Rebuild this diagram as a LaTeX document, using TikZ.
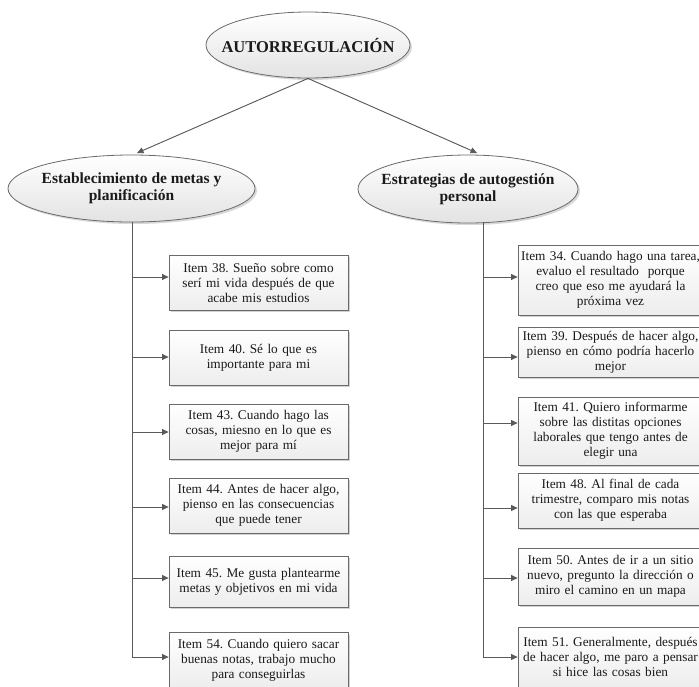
\documentclass[tikz,border=0pt]{standalone}
\usepackage{fontspec}
\setmainfont{Liberation Serif}
\usetikzlibrary{shapes.geometric,shadows,arrows.meta,calc}
\definecolor{linegray}{HTML}{5A5A5A}
\definecolor{edgegray}{HTML}{6A6A6A}
\definecolor{txt}{HTML}{1A1A1A}
\tikzset{
  ellbox/.style={ellipse, draw=edgegray, line width=0.8pt, inner sep=0pt,
    top color=white, bottom color=gray!22,
    drop shadow={shadow xshift=2pt, shadow yshift=-2pt, opacity=0.3}},
  elltext/.style={align=center, font=\fontsize{15.5}{17}\selectfont\bfseries, text=txt, inner sep=0pt},
  itembox/.style={rectangle, draw=edgegray, line width=0.8pt, inner sep=1pt,
    top color=white, bottom color=gray!14, align=center,
    font=\fontsize{13.3}{15}\selectfont\frenchspacing, text=txt,
    drop shadow={shadow xshift=2pt, shadow yshift=-2pt, opacity=0.35}},
  lbox/.style={itembox, minimum width=179pt, text width=177pt},
  rbox/.style={itembox, minimum width=185pt, text width=183pt},
  conn/.style={draw=linegray, line width=0.9pt},
  arr/.style={conn, -{Triangle[length=6.5pt,width=6pt]}, fill=linegray},
}
\begin{document}
\begin{tikzpicture}[x=1pt,y=-1pt]
\useasboundingbox (0,0) rectangle (699,686);
\fill[white] (0,0) rectangle (699,686);

% ellipses
\node[ellbox, minimum width=204pt, minimum height=66pt] (top) at (308,45) {};
\node[elltext, font=\fontsize{16.5}{18}\selectfont\bfseries] (toptxt) at (top) {AUTORREGULACIÓN};

\node[ellbox, minimum width=247pt, minimum height=67pt] (e1) at (131.5,188.5) {};
\node[elltext] (e1txt) at (e1) {Establecimiento de metas y\\planificación};

\node[ellbox, minimum width=220pt, minimum height=68pt] (e2) at (468,189) {};
\node[elltext] (e2txt) at (e2) {Estrategias de autogestión\\personal};

% connectors from top
\coordinate (ttip1) at (137,153);
\coordinate (ttip2) at (477,153);
\draw[arr] (top.south) -- (ttip1);
\draw[arr] (top.south) -- (ttip2);

% left boxes
\node[lbox, minimum height=55pt] (b38) at (258.5,282.5) {Item 38. Sueño sobre como\\serí mi vida después de que\\acabe mis estudios};
\node[lbox, minimum height=55pt] (b40) at (258.5,357.5) {Item 40. Sé lo que es\\importante para mi};
\node[lbox, minimum height=55pt] (b43) at (258.5,431.5) {Item 43. Cuando hago las\\cosas, miesno en lo que es\\mejor para mí};
\node[lbox, minimum height=55pt] (b44) at (258.5,505.5) {Item 44. Antes de hacer algo,\\pienso en las consecuencias\\que puede tener};
\node[lbox, minimum height=51pt] (b45) at (258.5,581.5) {Item 45. Me gusta plantearme\\metas y objetivos en mi vida};
\node[lbox, minimum height=55pt] (b54) at (258.5,660) {Item 54. Cuando quiero sacar\\buenas notas, trabajo mucho\\para conseguirlas};

% right boxes
\node[rbox, minimum height=70pt] (b34) at (610.5,280) {Item 34. Cuando hago una tarea,\\evaluo el resultado\ \ porque\\creo que eso me ayudará la\\próxima vez};
\node[rbox, minimum height=50pt] (b39) at (610.5,352) {Item 39. Después de hacer algo,\\pienso en cómo podría hacerlo\\mejor};
\node[rbox, minimum height=68pt] (b41) at (610.5,431) {Item 41. Quiero informarme\\sobre las distitas opciones\\laborales que tengo antes de\\elegir una};
\node[rbox, minimum height=55pt] (b48) at (610.5,500.5) {Item 48. Al final de cada\\trimestre, comparo mis notas\\con las que esperaba};
\node[rbox, minimum height=57pt] (b50) at (610.5,576.5) {Item 50. Antes de ir a un sitio\\nuevo, pregunto la dirección o\\miro el camino en un mapa};
\node[rbox, minimum height=60pt] (b51) at (610.5,657) {Item 51. Generalmente, después\\de hacer algo, me paro a pensar\\si hice las cosas bien};

% left spine
\coordinate (l38) at (132,277);
\coordinate (l40) at (132,357);
\coordinate (l43) at (132,432);
\coordinate (l44) at (132,507);
\coordinate (l45) at (132,578);
\coordinate (l54) at (132,657);
\draw[conn] (e1.south -| l54) -- (l54);
\foreach \c/\b in {l38/b38,l40/b40,l43/b43,l44/b44,l45/b45,l54/b54}
  \draw[arr] (\c) -- (\c -| \b.west);

% right spine
\coordinate (r34) at (483,277);
\coordinate (r39) at (483,357);
\coordinate (r41) at (483,423);
\coordinate (r48) at (483,508);
\coordinate (r50) at (483,578);
\coordinate (r51) at (483,657);
\draw[conn] ($(e2.south -| r51)+(0,-1)$) -- (r51);
\foreach \c/\b in {r34/b34,r39/b39,r41/b41,r48/b48,r50/b50,r51/b51}
  \draw[arr] (\c) -- (\c -| \b.west);
\end{tikzpicture}
\end{document}
